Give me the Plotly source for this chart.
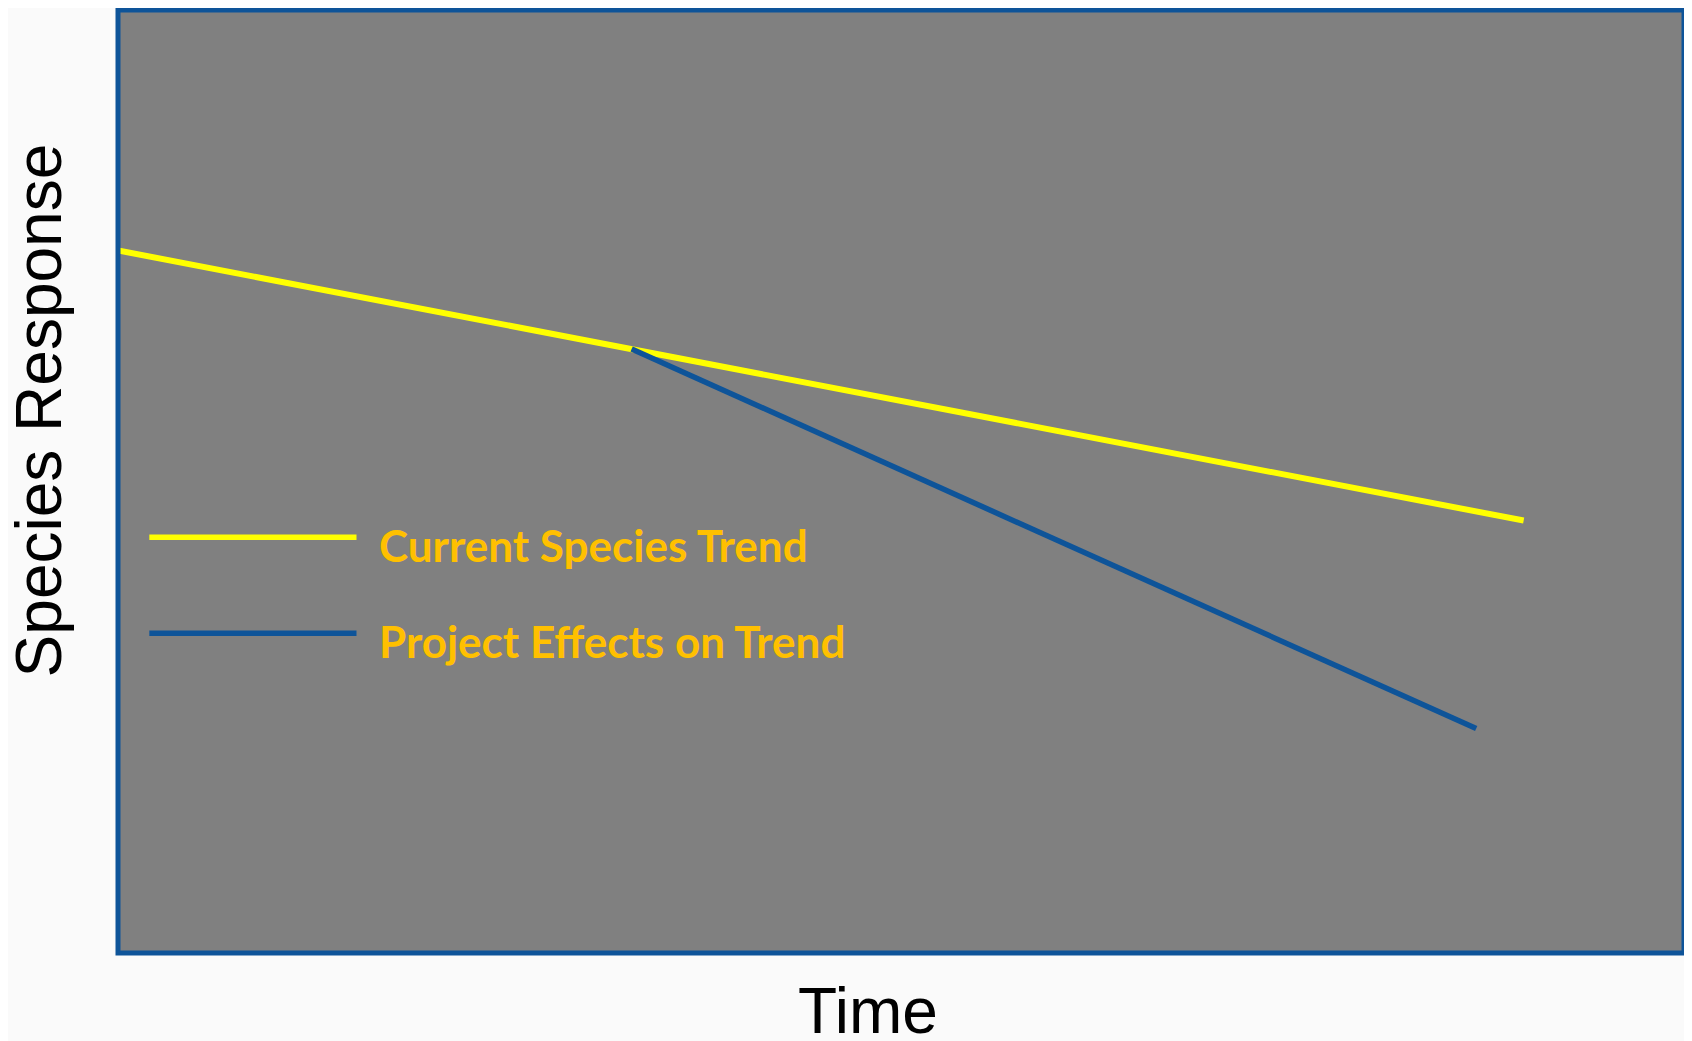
import plotly.graph_objects as go

# Data (time and response in arbitrary units 0-100)
current_time = [0.0, 89.76]
current_response = [74.5, 45.86]
project_time = [32.8, 86.73]
project_response = [64.05, 23.8]

legend_labels = ["Current Species Trend", "Project Effects on Trend"]
x_title = "Time"
y_title = "Species Response"

YELLOW = "#FFFF00"
BLUE = "#0E5499"
GOLD = "#FFC000"

fig = go.Figure()
fig.add_trace(go.Scatter(x=current_time, y=current_response, mode="lines",
                         line=dict(color=YELLOW, width=6), showlegend=False))
fig.add_trace(go.Scatter(x=project_time, y=project_response, mode="lines",
                         line=dict(color=BLUE, width=5.5), showlegend=False))

# manual legend
leg_x = [2.0, 15.23]
leg_y = [44.1, 33.9]
leg_text_y = [43.3, 33.1]
for col, ly, ty, lab in zip([YELLOW, BLUE], leg_y, leg_text_y, legend_labels):
    fig.add_trace(go.Scatter(x=leg_x, y=[ly, ly], mode="lines",
                             line=dict(color=col, width=5.5), showlegend=False))
    fig.add_annotation(x=16.53, y=ty, xref="x", yref="y", text="<b>%s</b>" % lab,
                       showarrow=False, xanchor="left", yanchor="middle",
                       font=dict(family="Lato", size=44, color=GOLD))

fig.add_shape(type="rect", xref="paper", yref="paper", x0=0, x1=1, y0=0, y1=1,
              line=dict(color=BLUE, width=5), layer="above")

fig.add_annotation(x=-0.0507, y=0.575, xref="paper", yref="paper", text=y_title,
                   textangle=-90, showarrow=False, xanchor="center", yanchor="middle",
                   font=dict(family="Liberation Sans, Arial", size=64, color="black"))
fig.add_annotation(x=0.479, y=-0.062, xref="paper", yref="paper", text=x_title,
                   showarrow=False, xanchor="center", yanchor="middle",
                   font=dict(family="Liberation Sans, Arial", size=64, color="black"))

fig.update_xaxes(range=[0, 100], visible=False, showgrid=False, zeroline=False)
fig.update_yaxes(range=[0, 100], visible=False, showgrid=False, zeroline=False)
fig.update_layout(width=1684, height=1033, margin=dict(l=110, r=8, t=2, b=88),
                  plot_bgcolor="#808080", paper_bgcolor="#FAFAFA", showlegend=False)

fig.write_html("out.html")
